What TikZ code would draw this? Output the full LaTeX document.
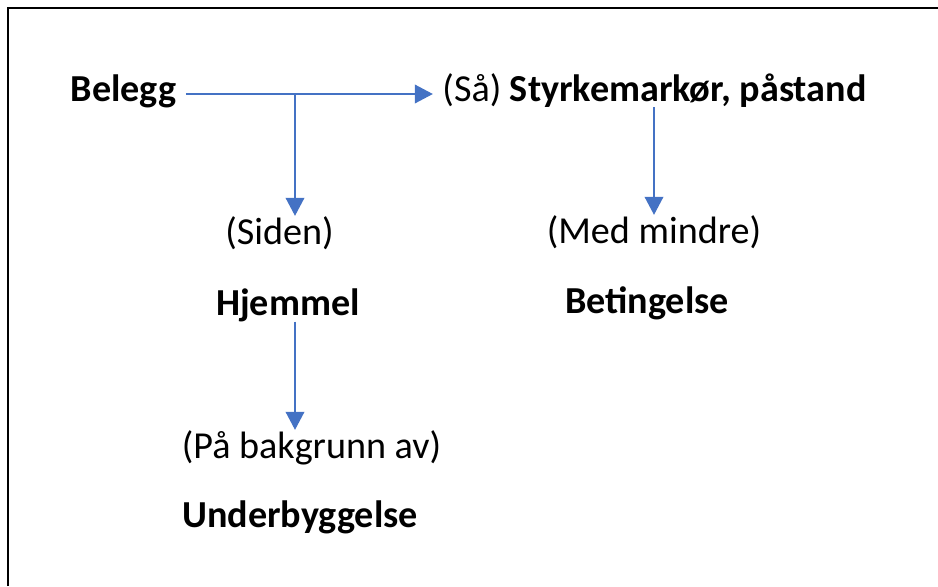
\documentclass[tikz,border=0pt]{standalone}
\usepackage{fontspec}
\setmainfont{Carlito}
\usetikzlibrary{arrows.meta}
\definecolor{officeblue}{HTML}{4472C4}

\begin{document}
\begin{tikzpicture}[x=0.75pt, y=-0.75pt,
        every node/.style = {inner xsep=7pt, inner ysep=0pt, anchor=base,
            font=\fontsize{28.6}{34}\selectfont},
        term/.style = {font=\fontsize{28.6}{34}\selectfont\bfseries},
        flow/.style = {draw=officeblue, line width=1.1pt,
            -{Triangle[width=14pt,length=13.5pt]}}]
    \useasboundingbox (0,0) rectangle (938,586);
    \draw[line width=1.6pt] (8,586) -- (8,8) -- (938,8);

    \node[term] (belegg) at (123.5,101) {Belegg};
    \node (claim) at (654.5,101) {(Så) \textbf{Styrkemarkør, påstand}};
    \node (siden) at (279.5,244) {(Siden)};
    \node[term] (hjemmel) at (288,315) {Hjemmel};
    \node (bakgrunn) at (311.5,458) {(På bakgrunn av)};
    \node[term] (underbygg) at (300,527) {Underbyggelse};
    \node (med) at (654,243) {(Med mindre)};
    \node[term] (betingelse) at (647,313) {Betingelse};

    \coordinate (split) at (295,94);
    \draw[flow] (belegg.east |- split) -- (claim.west |- split);
    \draw[flow] (split) -- (siden.north -| split);
    \draw[flow] (claim.south -| med.north) -- (med.north);
    \draw[flow] (hjemmel.south -| split) -- (bakgrunn.north -| split);
\end{tikzpicture}
\end{document}
